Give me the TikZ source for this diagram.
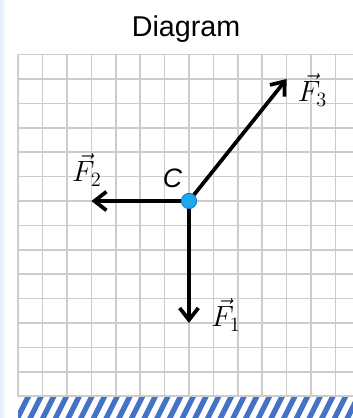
\documentclass[tikz,border=0pt]{standalone}
\usepackage{fontspec}
\usepackage{amsmath}
\usepackage{tikz}
\usetikzlibrary{arrows.meta}
\newfontfamily\arialfont{Liberation Sans}

\definecolor{gridgray}{RGB}{204,204,204}
\definecolor{dotblue}{RGB}{28,169,240}
\definecolor{dotedge}{RGB}{30,120,200}
\definecolor{hatchblue}{RGB}{68,114,196}
\definecolor{edgeblue}{RGB}{228,237,250}

\begin{document}
\begin{tikzpicture}[x=18.3pt, y=18.3pt,
  force/.style={-{Straight Barb[length=9pt,width=14pt]}, line width=2.8pt, black},
  flabel/.style={inner sep=0pt, anchor=base west, font=\LARGE, scale=1.27},
  pointdot/.style={circle, fill=dotblue, draw=dotedge, line width=0.6pt, inner sep=0pt, minimum size=11.5pt}]
\useasboundingbox (-7.746,-8.893) rectangle (6.721,8.238);
\shade[left color=edgeblue, right color=white] (-7.746,-8.893) rectangle (-7.5,8.238);
% grid
\foreach \x in {-7,...,6} {
  \draw[gridgray, line width=1.3pt] (\x,6) -- (\x,-8);
}
\foreach \y in {-8,...,6} {
  \draw[gridgray, line width=1.3pt] (-7,\y) -- (6.721,\y);
}
% ground
\begin{scope}
  \clip (-7,-8.07) rectangle (6.721,-8.893);
  \foreach \i in {0,...,30} {
    \draw[hatchblue, line width=4pt] ({-7.6+0.52*\i},-9) -- ({-7.05+0.52*\i},-7.9);
  }
\end{scope}
\node[inner sep=0pt, anchor=base, font=\arialfont\fontsize{21.5}{21.5}\selectfont] (title) at (-0.12,6.76) {Diagram};
% forces
\coordinate (C) at (0,0);
\coordinate (F1tip) at (0,-5);
\coordinate (F2tip) at (-4,0);
\coordinate (F3tip) at (4,5);
\draw[force] (C) -- (F1tip);
\draw[force] (C) -- (F2tip);
\draw[force] (C) -- (F3tip);
\node[pointdot] (Cdot) at (C) {};
\node[inner sep=0pt, anchor=base, font=\arialfont\itshape\fontsize{20}{20}\selectfont] (Clabel) at (-0.68,0.57) {C};
\node[flabel] (F1label) at (0.9,-5.15) {$\vec{F}_1$};
\node[flabel] (F2label) at (-4.8,0.79) {$\vec{F}_2$};
\node[flabel] (F3label) at (4.45,4.07) {$\vec{F}_3$};
\end{tikzpicture}
\end{document}
